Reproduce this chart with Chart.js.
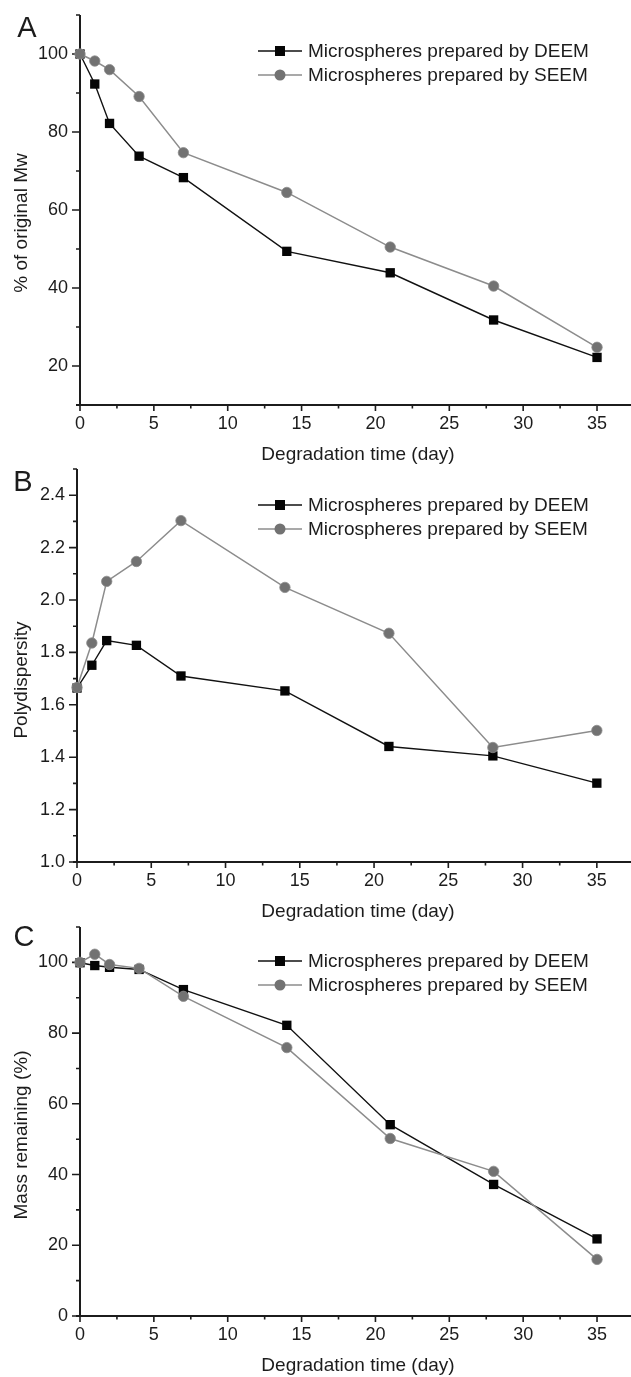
<!doctype html>
<html lang="en">
<meta charset="utf-8">
<head>
<script src="https://cdn.jsdelivr.net/npm/chart.js"></script>
<style>
    body { margin: 0; background: #fff; }
    .panel { position: absolute; left: 0; }
</style>
</head>
<body>
<canvas id="chartA" class="panel" width="631" height="465" style="top:0px"></canvas>
<canvas id="chartB" class="panel" width="631" height="460" style="top:465px"></canvas>
<canvas id="chartC" class="panel" width="631" height="452" style="top:925px"></canvas>

<script>
    // data
    const days = [0, 1, 2, 4, 7, 14, 21, 28, 35];
    const seriesNames = ['Microspheres prepared by DEEM', 'Microspheres prepared by SEEM'];

    const mwDEEM = [100, 92.3, 82.2, 73.8, 68.3, 49.4, 43.9, 31.8, 22.2];
    const mwSEEM = [100, 98.2, 96.0, 89.1, 74.7, 64.5, 50.5, 40.5, 24.8];

    const pdiDEEM = [1.664, 1.751, 1.845, 1.827, 1.710, 1.653, 1.441, 1.405, 1.301];
    const pdiSEEM = [1.666, 1.836, 2.071, 2.147, 2.303, 2.048, 1.873, 1.437, 1.502];

    const massDEEM = [99.9, 99.1, 98.6, 98.0, 92.3, 82.2, 54.1, 37.2, 21.8];
    const massSEEM = [100, 102.3, 99.4, 98.3, 90.4, 75.9, 50.2, 40.9, 16.0];

    const xTicks = [0, 5, 10, 15, 20, 25, 30, 35];
    const xMinor = [2.5, 7.5, 12.5, 17.5, 22.5, 27.5, 32.5];
    const mwTicks = [20, 40, 60, 80, 100];
    const mwMinor = [30, 50, 70, 90, 110];
    const pdiTicks = [1.0, 1.2, 1.4, 1.6, 1.8, 2.0, 2.2, 2.4];
    const pdiMinor = [1.1, 1.3, 1.5, 1.7, 1.9, 2.1, 2.3, 2.5];
    const massTicks = [0, 20, 40, 60, 80, 100];
    const massMinor = [10, 30, 50, 70, 90, 110];

    const FONT = "'Liberation Sans', Arial, sans-serif";
    const INK = '#1c1c1c';

    function noPad(s) {
        s.paddingTop = 0; s.paddingBottom = 0; s.paddingLeft = 0; s.paddingRight = 0;
    }

    // axes, ticks, legend, letters and titles drawn by hand (Origin style)
    const frame = {
        id: 'frame',
        beforeDatasetsDraw(chart, args, o) {
            const { ctx, chartArea: a, scales: { x, y } } = chart;
            ctx.save();
            ctx.strokeStyle = INK;
            ctx.lineWidth = 2;
            ctx.beginPath();
            ctx.moveTo(a.left, a.top);
            ctx.lineTo(a.left, a.bottom + 1);
            ctx.moveTo(a.left - 4, a.bottom);
            ctx.lineTo(a.right, a.bottom);
            ctx.stroke();
            ctx.lineWidth = 1.6;
            ctx.beginPath();
            o.yMajor.forEach(v => { const p = y.getPixelForValue(v); ctx.moveTo(a.left - 8, p); ctx.lineTo(a.left, p); });
            o.yMinor.forEach(v => { const p = y.getPixelForValue(v); ctx.moveTo(a.left - 4, p); ctx.lineTo(a.left, p); });
            xTicks.forEach(v => { const p = x.getPixelForValue(v); ctx.moveTo(p, a.bottom); ctx.lineTo(p, a.bottom + 6); });
            xMinor.forEach(v => { const p = x.getPixelForValue(v); ctx.moveTo(p, a.bottom); ctx.lineTo(p, a.bottom + 3.5); });
            ctx.stroke();
            ctx.restore();
        },
        afterDraw(chart, args, o) {
            const { ctx, chartArea: a } = chart;
            ctx.save();
            ctx.fillStyle = INK;
            ctx.textBaseline = 'middle';

            // panel letter
            ctx.font = '29px ' + FONT;
            ctx.textAlign = 'center';
            ctx.fillText(o.letter, o.letterX, a.top + o.letterDy);

            // axis titles
            ctx.font = '19px ' + FONT;
            ctx.fillText('Degradation time (day)', 358, a.bottom + 50);
            ctx.save();
            ctx.translate(22, o.yTitleY);
            ctx.rotate(-Math.PI / 2);
            ctx.fillText(o.yTitle, 0, 0);
            ctx.restore();

            // legend
            ctx.textAlign = 'left';
            chart.data.datasets.forEach((ds, i) => {
                const ly = o.legendY + i * 24;
                ctx.strokeStyle = ds.borderColor;
                ctx.lineWidth = ds.borderWidth;
                ctx.beginPath();
                ctx.moveTo(258, ly);
                ctx.lineTo(302, ly);
                ctx.stroke();
                ctx.fillStyle = ds.pointBackgroundColor;
                ctx.beginPath();
                if (ds.pointStyle === 'rect') ctx.rect(275, ly - 5, 10, 10);
                else ctx.arc(280, ly, 5.5, 0, Math.PI * 2);
                ctx.fill();
                ctx.fillStyle = INK;
                ctx.font = '19px ' + FONT;
                ctx.fillText(ds.label, 308, ly + 1);
            });
            ctx.restore();
        }
    };

    function makeChart(id, deem, seem, yMin, yMax, yTicks, yMinor, fmt, box, deco) {
        return new Chart(document.getElementById(id), {
            type: 'line',
            data: {
                datasets: [
                    {
                        label: seriesNames[0],
                        data: days.map((d, i) => ({ x: d, y: deem[i] })),
                        borderColor: '#111',
                        borderWidth: 1.4,
                        pointStyle: 'rect',
                        pointRadius: 6.6,
                        pointBackgroundColor: '#050505',
                        pointBorderColor: '#050505',
                        pointBorderWidth: 0,
                        order: 1,
                        clip: false
                    },
                    {
                        label: seriesNames[1],
                        data: days.map((d, i) => ({ x: d, y: seem[i] })),
                        borderColor: '#8c8c8c',
                        borderWidth: 1.5,
                        pointStyle: 'circle',
                        pointRadius: 5.2,
                        pointBackgroundColor: '#727272',
                        pointBorderColor: '#8a8a8a',
                        pointBorderWidth: 0.8,
                        order: 0,
                        clip: false
                    }
                ]
            },
            options: {
                responsive: false,
                animation: false,
                layout: { autoPadding: false, padding: { top: box.top, left: 0, right: 0, bottom: 0 } },
                plugins: {
                    legend: { display: false },
                    tooltip: { enabled: false },
                    frame: deco
                },
                scales: {
                    x: {
                        type: 'linear',
                        min: 0,
                        max: 37.3,
                        afterBuildTicks: s => { s.ticks = xTicks.map(v => ({ value: v })); },
                        afterFit: s => { s.height = box.xh; noPad(s); },
                        grid: { display: false, drawTicks: false },
                        border: { display: false },
                        ticks: { padding: 8, color: INK, font: { family: FONT, size: 18 } }
                    },
                    y: {
                        type: 'linear',
                        min: yMin,
                        max: yMax,
                        afterBuildTicks: s => { s.ticks = yTicks.map(v => ({ value: v })); },
                        afterFit: s => { s.width = box.yw; noPad(s); },
                        grid: { display: false, drawTicks: false },
                        border: { display: false },
                        ticks: { padding: 12, color: INK, font: { family: FONT, size: 18 }, callback: fmt }
                    }
                }
            },
            plugins: [frame]
        });
    }

    makeChart('chartA', mwDEEM, mwSEEM, 10, 110, mwTicks, mwMinor, v => v,
        { top: 15, xh: 60, yw: 80 },
        { yMajor: mwTicks, yMinor: mwMinor, letter: 'A', letterX: 27, letterDy: 14, yTitle: '% of original Mw', yTitleY: 223, legendY: 51 });

    makeChart('chartB', pdiDEEM, pdiSEEM, 1.0, 2.5, pdiTicks, pdiMinor, v => v.toFixed(1),
        { top: 4, xh: 63, yw: 77 },
        { yMajor: pdiTicks, yMinor: pdiMinor, letter: 'B', letterX: 23, letterDy: 14, yTitle: 'Polydispersity', yTitleY: 215, legendY: 40 });

    makeChart('chartC', massDEEM, massSEEM, 0, 110, massTicks, massMinor, v => v,
        { top: 2, xh: 61, yw: 80 },
        { yMajor: massTicks, yMinor: massMinor, letter: 'C', letterX: 24, letterDy: 11, yTitle: 'Mass remaining (%)', yTitleY: 210, legendY: 36 });
</script>
</body>
</html>
